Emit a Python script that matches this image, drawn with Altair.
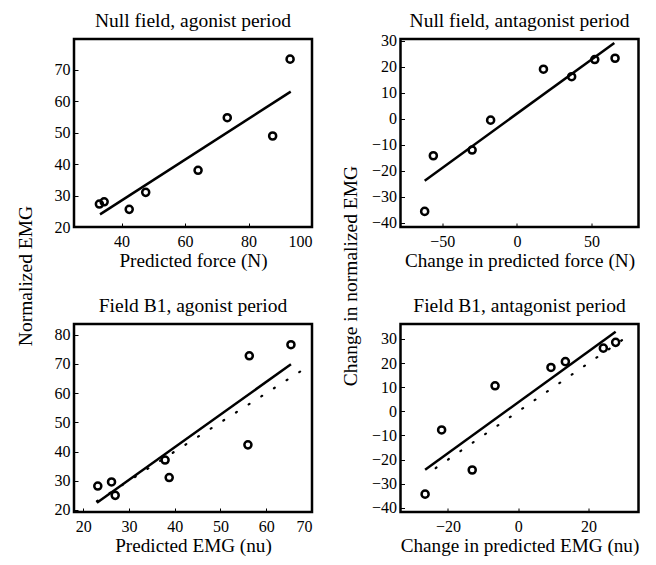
import altair as alt
import pandas as pd

FONT = "Liberation Serif"

# ---- Panel A: Null field, agonist period
a_x = [33.0, 34.5, 42.4, 47.6, 64.1, 73.3, 87.6, 93.1]
a_y = [27.3, 28.0, 25.6, 31.0, 38.0, 54.7, 48.9, 73.3]
a_fit_x = [33.2, 93.3]
a_fit_y = [24.0, 63.0]

# ---- Panel B: Null field, antagonist period
b_x = [-61.8, -56.0, -30.0, -17.6, 17.8, 36.7, 52.2, 65.8]
b_y = [-35.6, -14.2, -12.0, -0.5, 19.1, 16.2, 22.8, 23.3]
b_fit_x = [-61.8, 65.3]
b_fit_y = [-23.8, 29.2]

# ---- Panel C: Field B1, agonist period
c_x = [23.2, 26.2, 27.0, 37.9, 38.8, 56.3, 56.0, 65.4]
c_y = [28.2, 29.6, 25.0, 37.1, 31.1, 72.8, 42.3, 76.6]
c_fit_x = [23.0, 65.4]
c_fit_y = [22.5, 69.9]
c_ident = [23.0, 69.0]

# ---- Panel D: Field B1, antagonist period
d_x = [-26.5, -21.8, -13.1, -6.6, 9.3, 13.4, 24.2, 27.7]
d_y = [-34.3, -7.7, -24.3, 10.6, 18.2, 20.6, 26.2, 28.6]
d_fit_x = [-26.5, 27.7]
d_fit_y = [-24.2, 33.0]
d_ident = [-23.5, 30.6]

W, H = 238, 188
ROW_GAP = 97
COL_GAP = 88.5


def make_df(px, py, fx, fy, ident=None):
    rows = [{"x": a, "y": b, "kind": "pt"} for a, b in zip(px, py)]
    rows += [{"x": a, "y": b, "kind": "fit"} for a, b in zip(fx, fy)]
    if ident is not None:
        rows += [{"x": v, "y": v, "kind": "id"} for v in ident]
    return pd.DataFrame(rows)


def panel(df, title, xdom, ydom, xticks, yticks, xtitle, ytitle=None,
          ytitle_x=0, title_offset=-7):
    yaxis_kw = dict(values=yticks, offset=-4, tickSize=4, tickColor="black",
                    tickWidth=1, domain=False, grid=False, labelPadding=4,
                    labelFont=FONT, labelFontSize=16, labelColor="black")
    if ytitle is not None:
        yaxis_kw.update(title=ytitle, titleFont=FONT, titleFontSize=19.5,
                        titleFontWeight="normal", titleColor="black",
                        titleAngle=270, titleAlign="center",
                        titleBaseline="middle", titleX=ytitle_x,
                        titleY=(2 * H + ROW_GAP) / 2)
    else:
        yaxis_kw.update(title=None)
    xaxis = alt.Axis(values=xticks, offset=-4, tickSize=4, tickColor="black",
                     tickWidth=1, domain=False, grid=False, labelPadding=19,
                     labelBaseline="alphabetic", labelFont=FONT,
                     labelFontSize=16, labelColor="black",
                     title=xtitle, titleFont=FONT, titleFontSize=19.2,
                     titleFontWeight="normal", titleColor="black",
                     titleY=43, titleBaseline="alphabetic")
    base = alt.Chart(df).encode(
        x=alt.X("x:Q", scale=alt.Scale(domain=xdom, nice=False, zero=False),
                axis=xaxis),
        y=alt.Y("y:Q", scale=alt.Scale(domain=ydom, nice=False, zero=False),
                axis=alt.Axis(**yaxis_kw)),
    )
    pts = base.transform_filter(alt.datum.kind == "pt").mark_point(
        shape="circle", filled=False, stroke="black", strokeWidth=2.5,
        size=50, opacity=1)
    fit = base.transform_filter(alt.datum.kind == "fit").mark_line(
        color="black", strokeWidth=2.5)
    layers = [pts, fit]
    if (df["kind"] == "id").any():
        ident = base.transform_filter(alt.datum.kind == "id").mark_line(
            color="black", strokeWidth=2.2, strokeDash=[1, 14], strokeCap="round")
        layers.append(ident)
    return alt.layer(*layers).properties(
        width=W, height=H,
        title=alt.TitleParams(title, font=FONT, fontSize=19.5,
                              fontWeight="normal", color="black",
                              frame="group", anchor="middle",
                              baseline="alphabetic", offset=title_offset),
    )


pA = panel(make_df(a_x, a_y, a_fit_x, a_fit_y), "Null field, agonist period",
           [25, 100], [20, 79.7], [40, 60, 80, 100], [20, 30, 40, 50, 60, 70],
           "Predicted force (N)", "Normalized EMG", ytitle_x=-53,
           title_offset=-7)
pB = panel(make_df(b_x, b_y, b_fit_x, b_fit_y), "Null field, antagonist period",
           [-78, 81.5], [-41.6, 30.7], [-50, 0, 50],
           [-40, -30, -20, -10, 0, 10, 20, 30],
           "Change in predicted force (N)", "Change in normalized EMG",
           ytitle_x=-54, title_offset=-14)
pC = panel(make_df(c_x, c_y, c_fit_x, c_fit_y, c_ident),
           "Field B1, agonist period",
           [18, 70], [19.3, 83.7], [20, 30, 40, 50, 60, 70],
           [20, 30, 40, 50, 60, 70, 80], "Predicted EMG (nu)",
           title_offset=-7)
pD = panel(make_df(d_x, d_y, d_fit_x, d_fit_y, d_ident),
           "Field B1, antagonist period",
           [-33.5, 34.2], [-41.7, 36.2], [-20, 0, 20],
           [-40, -30, -20, -10, 0, 10, 20, 30],
           "Change in predicted EMG (nu)", title_offset=-7)

chart = alt.concat(pA, pB, pC, pD, columns=2,
                   spacing=alt.RowColnumber(row=ROW_GAP, column=COL_GAP),
                   bounds="flush").properties(
    padding={"left": 5, "top": 1, "right": 5, "bottom": 5},
    background="white",
).configure_view(stroke="black", strokeWidth=2.5)

chart.save("out.html", embed_options={"renderer": "svg", "actions": False})
